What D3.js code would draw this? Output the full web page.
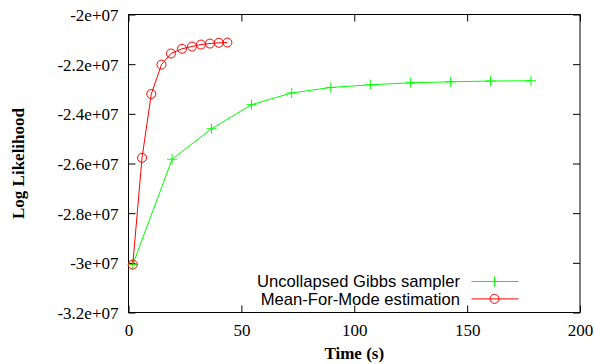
<!DOCTYPE html>
<html>
<head>
<meta charset="utf-8">
<script src="https://cdn.jsdelivr.net/npm/d3@7"></script>
<style>
  body { margin: 0; background: #fff; }
  .tick text { font-family: "Liberation Serif", serif; font-size: 17px; fill: #000; }
  .tick line { stroke: #000; }
</style>
</head>
<body>
<div id="chart"></div>
<script>
// values (time in s, log likelihood)
const gibbsTime = [1.9, 19.3, 36.8, 54.5, 72.3, 89.6, 107.1, 125, 142.7, 160.4, 178.3];
const gibbsLL = [-3.007e7, -2.583e7, -2.46e7, -2.363e7, -2.316e7, -2.294e7, -2.283e7, -2.275e7, -2.271e7, -2.268e7, -2.267e7];

const mfmTime = [1.9, 6.0, 10.1, 14.6, 18.8, 23.7, 28.1, 32.1, 36.1, 40.0, 43.8];
const mfmLL = [-3.007e7, -2.577e7, -2.32e7, -2.202e7, -2.157e7, -2.138e7, -2.129e7, -2.121e7, -2.117e7, -2.114e7, -2.113e7];

const xTicks = [0, 50, 100, 150, 200];
const yTicks = [-3.2e7, -3e7, -2.8e7, -2.6e7, -2.4e7, -2.2e7, -2e7];

const seriesNames = ["Uncollapsed Gibbs sampler", "Mean-For-Mode estimation"];

// set the dimensions and margins of the graph
const margin = {top: 14, right: 14, bottom: 52, left: 128.5},
    width = 594 - margin.left - margin.right,
    height = 364 - margin.top - margin.bottom;

const svg = d3.select("#chart")
  .append("svg")
    .attr("width", 594)
    .attr("height", 364)
  .append("g")
    .attr("transform", "translate(" + margin.left + "," + (margin.top + 0.5) + ")");

const x = d3.scaleLinear().domain([0, 200]).range([0, width]);
const y = d3.scaleLinear().domain([-3.2e7, -2e7]).range([height, 0]);

const fmt = v => (+(v / 1e7).toFixed(1)) + "e+07";

// axes, ticks pointing inward like gnuplot
svg.append("g")
  .attr("transform", "translate(0," + height + ")")
  .call(d3.axisBottom(x).tickValues(xTicks).tickSize(-7).tickPadding(11).tickFormat(d3.format("d")))
  .call(g => g.select(".domain").remove());

svg.append("g")
  .call(d3.axisLeft(y).tickValues(yTicks).tickSize(-7).tickPadding(10).tickFormat(fmt))
  .call(g => g.select(".domain").remove())
  .selectAll("text").attr("dy", "0.35em");

svg.append("g")
  .call(d3.axisTop(x).tickValues(xTicks).tickSize(-7).tickFormat(""))
  .call(g => g.select(".domain").remove());

svg.append("g")
  .attr("transform", "translate(" + width + ",0)")
  .call(d3.axisRight(y).tickValues(yTicks).tickSize(-7).tickFormat(""))
  .call(g => g.select(".domain").remove());

// frame
svg.append("rect")
  .attr("width", width)
  .attr("height", height)
  .attr("fill", "none")
  .attr("stroke", "#000");

// axis labels
svg.append("text")
  .attr("text-anchor", "middle")
  .attr("x", width / 2)
  .attr("y", height + 46)
  .style("font-family", "Liberation Serif, serif")
  .style("font-weight", "bold")
  .style("font-size", "17px")
  .text("Time (s)");

svg.append("text")
  .attr("text-anchor", "middle")
  .attr("transform", "translate(" + (-105) + "," + (height / 2) + ") rotate(-90)")
  .style("font-family", "Liberation Serif, serif")
  .style("font-weight", "bold")
  .style("font-size", "17px")
  .text("Log Likelihood");

const line = d3.line();

const gibbsPts = gibbsTime.map((t, i) => [x(t), y(gibbsLL[i])]);
const mfmPts = mfmTime.map((t, i) => [x(t), y(mfmLL[i])]);

const plus = "M-5,0H5M0,-5V5";

// green series
svg.append("path")
  .attr("d", line(gibbsPts))
  .attr("fill", "none")
  .attr("stroke", "#00ff00");

svg.selectAll(".gmark")
  .data(gibbsPts)
  .enter()
  .append("path")
    .attr("class", "gmark")
    .attr("transform", d => "translate(" + d[0] + "," + d[1] + ")")
    .attr("d", plus)
    .attr("stroke", "#00ff00");

// red series
svg.append("path")
  .attr("d", line(mfmPts))
  .attr("fill", "none")
  .attr("stroke", "#ff0000");

svg.selectAll(".rmark")
  .data(mfmPts)
  .enter()
  .append("circle")
    .attr("class", "rmark")
    .attr("cx", d => d[0])
    .attr("cy", d => d[1])
    .attr("r", 4.5)
    .attr("fill", "none")
    .attr("stroke", "#ff0000");

// legend
const legendColors = ["#00ff00", "#ff0000"];
const legend = svg.selectAll(".legend")
  .data(seriesNames)
  .enter()
  .append("g")
    .attr("class", "legend")
    .attr("transform", (d, i) => "translate(0," + (267 + i * 17.4) + ")");

legend.append("text")
  .attr("x", 331.5)
  .attr("dy", "0.35em")
  .attr("text-anchor", "end")
  .style("font-family", "Liberation Sans, sans-serif")
  .style("font-size", "16.6px")
  .text(d => d);

legend.append("line")
  .attr("x1", 343)
  .attr("x2", 390)
  .attr("stroke", (d, i) => legendColors[i]);

legend.filter((d, i) => i === 0).append("path")
  .attr("transform", "translate(366,0)")
  .attr("d", plus)
  .attr("stroke", legendColors[0]);

legend.filter((d, i) => i === 1).append("circle")
  .attr("cx", 366)
  .attr("r", 4.5)
  .attr("fill", "none")
  .attr("stroke", legendColors[1]);
</script>
</body>
</html>
